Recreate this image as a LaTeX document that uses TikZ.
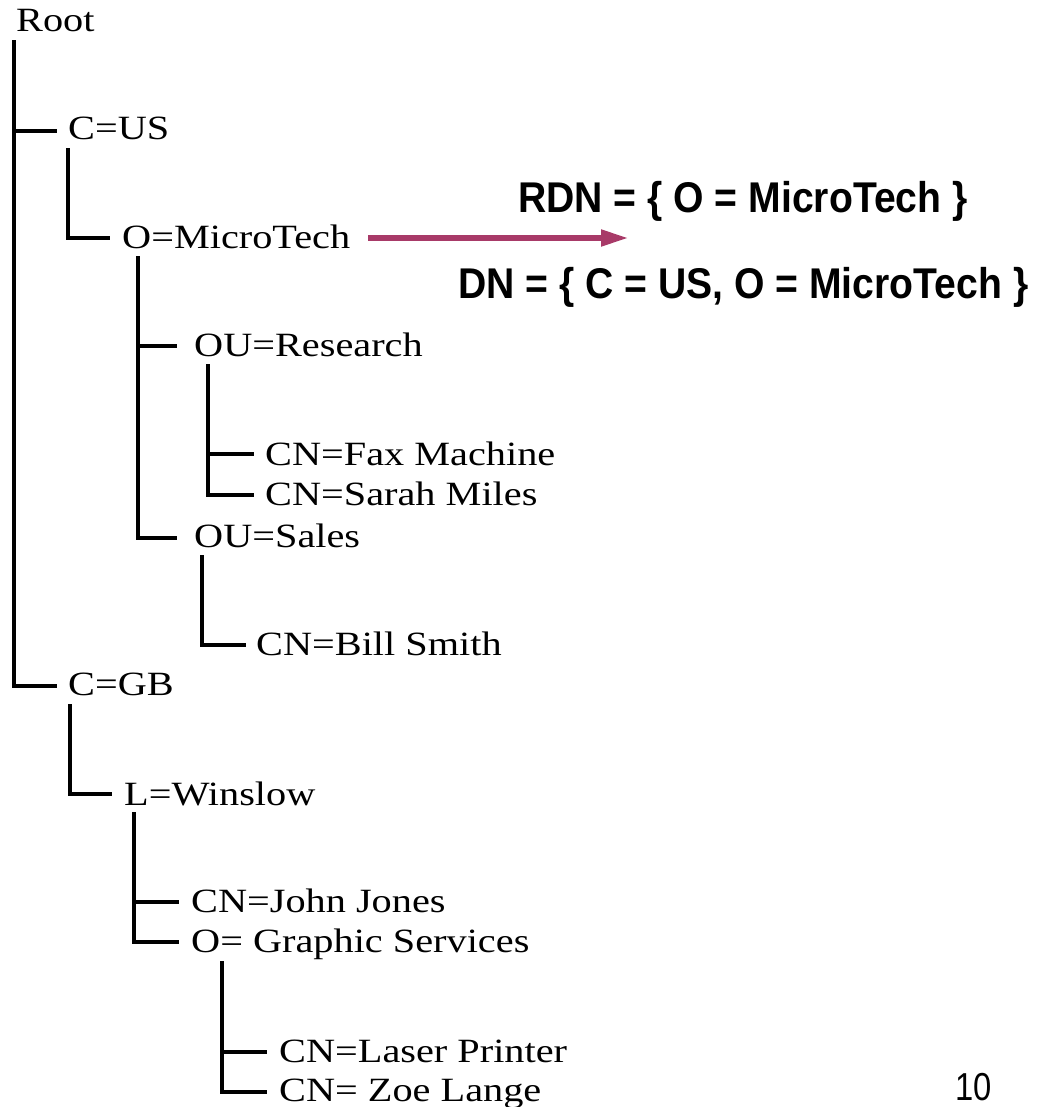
\documentclass[tikz,border=0pt]{standalone}
\usepackage{fontspec}
\usetikzlibrary{arrows.meta}
\newfontfamily\treefont{Liberation Serif}[FakeStretch=1.185]
\newfontfamily\rdnfont{Liberation Sans}[FakeStretch=0.91]
\newfontfamily\pagefont{Liberation Sans}[FakeStretch=0.84]
\definecolor{arrowred}{RGB}{168,58,104}
\tikzset{
  entry/.style={anchor=base west, inner sep=0pt, font=\treefont\fontsize{34}{38}\selectfont},
  formula/.style={anchor=base west, inner sep=0pt, font=\rdnfont\bfseries\fontsize{43}{48}\selectfont},
  branch/.style={line width=3.2pt, line cap=rect},
  pointer/.style={line width=5pt, draw=arrowred, -{Triangle[length=27pt,width=16pt]}}
}
\begin{document}
\begin{tikzpicture}[x=1pt,y=-1pt]
\useasboundingbox (0,0) rectangle (1046,1107);
% text nodes
\node[entry] (root) at (16,32) {Root};
\node[entry] (cus) at (68,140) {C=US};
\node[entry] (omt) at (122,248) {O=MicroTech};
\node[entry] (ouR) at (194,356) {OU=Research};
\node[entry] (fax) at (265,465) {CN=Fax Machine};
\node[entry] (sarah) at (265,505) {CN=Sarah Miles};
\node[entry] (ouS) at (194,547) {OU=Sales};
\node[entry] (bill) at (256,655) {CN=Bill Smith};
\node[entry] (cgb) at (68,695) {C=GB};
\node[entry] (win) at (124,805) {L=Winslow};
\node[entry] (john) at (191,912) {CN=John Jones};
\node[entry] (gs) at (191,952) {O= Graphic Services};
\node[entry] (laser) at (279,1062) {CN=Laser Printer};
\node[entry] (zoe) at (279,1101) {CN= Zoe Lange};
\node[formula] (rdn) at (518,213) {RDN = \{ O = MicroTech \}};
\node[formula] (dn) at (458,298) {DN = \{ C = US, O = MicroTech \}};
\node[anchor=base west, inner sep=0pt, font=\pagefont\fontsize{39}{44}\selectfont] (page) at (955,1100) {10};
% vertical tops
\coordinate (vroot) at (14,42);
\coordinate (vcus) at (68,150);
\coordinate (vomt) at (138,258);
\coordinate (vouR) at (208,366);
\coordinate (vouS) at (202,557);
\coordinate (vcgb) at (70,706);
\coordinate (vwin) at (134,814);
\coordinate (vgs) at (222,963);
% connectors
\draw[branch] (vroot) |- ([shift={(-13,-9)}]cus.base west);
\draw[branch] (vroot) |- ([shift={(-13,-9)}]cgb.base west);
\draw[branch] (vcus) |- ([shift={(-14,-10)}]omt.base west);
\draw[branch] (vomt) |- ([shift={(-19,-10)}]ouR.base west);
\draw[branch] (vomt) |- ([shift={(-19,-9)}]ouS.base west);
\draw[branch] (vouR) |- ([shift={(-13,-11)}]fax.base west);
\draw[branch] (vouR) |- ([shift={(-13,-10)}]sarah.base west);
\draw[branch] (vouS) |- ([shift={(-12,-10)}]bill.base west);
\draw[branch] (vcgb) |- ([shift={(-14,-11)}]win.base west);
\draw[branch] (vwin) |- ([shift={(-14,-10)}]john.base west);
\draw[branch] (vwin) |- ([shift={(-14,-10)}]gs.base west);
\draw[branch] (vgs) |- ([shift={(-14,-10)}]laser.base west);
\draw[branch] (vgs) |- ([shift={(-14,-9)}]zoe.base west);
% arrow
\coordinate (tip) at (628,238);
\draw[pointer] ([xshift=18pt]omt.east |- 0,238) -- (tip);
\end{tikzpicture}
\end{document}
